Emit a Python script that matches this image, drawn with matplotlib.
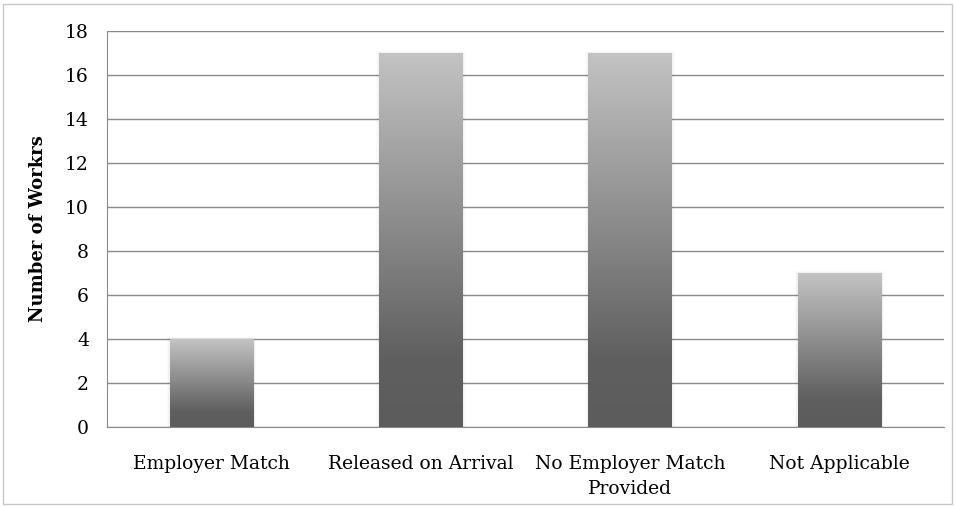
import numpy as np
import matplotlib.pyplot as plt
from matplotlib.colors import LinearSegmentedColormap
from matplotlib.patches import Rectangle

categories = ["Employer Match", "Released on Arrival", "No Employer Match\nProvided", "Not Applicable"]
workers = [4, 17, 17, 7]
y_ticks = [0, 2, 4, 6, 8, 10, 12, 14, 16, 18]

plt.rcParams["font.family"] = ["DejaVu Serif"]

fig = plt.figure(figsize=(9.55, 5.07), dpi=100)
ax = fig.add_axes([107 / 955, 1 - 427 / 507, (944 - 107) / 955, (427 - 31) / 507])

# Outer chart border
fig.patches.append(Rectangle((3 / 955, 3 / 507), 949 / 955, 500 / 507, transform=fig.transFigure,
                             fill=False, ec="#c8c8c8", lw=1))

cmap = LinearSegmentedColormap.from_list("bar", [(0, "#5c5c5c"), (0.18, "#5f5f5f"), (1, "#c3c3c3")])
grad = np.linspace(0, 1, 256).reshape(-1, 1)

x = np.arange(len(categories))
width = 0.4
bars = ax.bar(x, workers, width=width, color="none", zorder=3)
for bar in bars:
    x0, y0 = bar.get_x(), bar.get_y()
    w, h = bar.get_width(), bar.get_height()
    # soft shadow
    for i, a in enumerate([0.03, 0.02]):
        d = 0.007 * (i + 1)
        ax.add_patch(Rectangle((x0 - d, y0), w + 2 * d, h + d * 5, color="black", alpha=a, lw=0, zorder=2))
    im = ax.imshow(grad, extent=[x0, x0 + w, y0, y0 + h], origin="lower", aspect="auto",
                   cmap=cmap, zorder=3)
    im.set_clip_path(bar)

ax.set_xlim(-0.5, len(categories) - 0.5)
ax.set_ylim(0, 18)
ax.set_yticks(y_ticks)
ax.set_xticks(x)
ax.set_xticklabels(categories, fontsize=13.5, linespacing=1.5)
ax.tick_params(axis="y", labelsize=13.5, length=0, pad=13)
ax.tick_params(axis="x", length=0, pad=20)
ax.yaxis.grid(True, color="#8a8a8a", lw=1)
ax.set_axisbelow(True)
for s in ["top", "right"]:
    ax.spines[s].set_visible(False)
ax.spines["left"].set_color("#8a8a8a")
ax.spines["bottom"].set_color("#8a8a8a")
ax.set_ylabel("Number of Workrs", fontsize=13, fontweight="bold", labelpad=13)

fig.savefig("out.png", dpi=100)
